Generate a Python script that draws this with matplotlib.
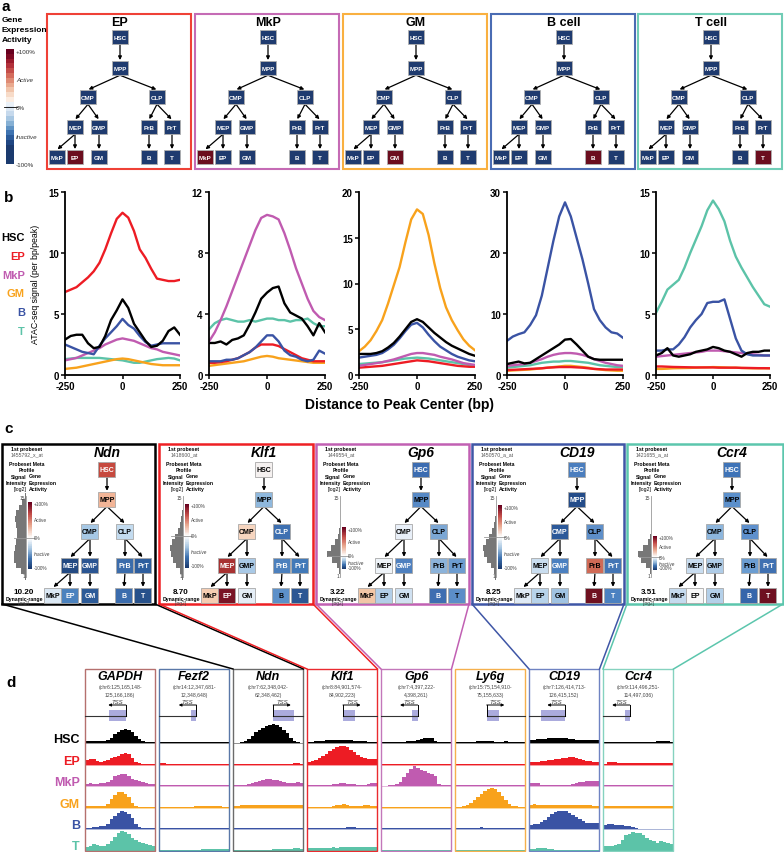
import numpy as np
import matplotlib
matplotlib.use("Agg")
import matplotlib.pyplot as plt
from matplotlib.colors import ListedColormap, LinearSegmentedColormap, to_rgb

plt.rcParams['font.family'] = ['Liberation Sans', 'DejaVu Sans']

W, H = 784, 853

# ---------------- data ----------------
cell_types = ["HSC", "EP", "MkP", "GM", "B", "T"]
cell_colors = ["#000000", "#ed1c24", "#c05bb0", "#f8a21c", "#3a53a4", "#5cc3a8"]

tree_nodes = ["HSC", "MPP", "CMP", "CLP", "MEP", "GMP", "PrB", "PrT", "MkP", "EP", "GM", "B", "T"]
tree_edges = [("HSC", "MPP"), ("MPP", "CMP"), ("MPP", "CLP"), ("CMP", "MEP"), ("CMP", "GMP"),
              ("CLP", "PrB"), ("CLP", "PrT"), ("MEP", "MkP"), ("MEP", "EP"), ("GMP", "GM"),
              ("PrB", "B"), ("PrT", "T")]

# panel a
a_titles = ["EP", "MkP", "GM", "B cell", "T cell"]
a_active = ["EP", "MkP", "GM", "B", "T"]
a_border = ["#ef4136", "#c56bb5", "#f9b040", "#4a6cb3", "#71cdb6"]
a_cbar = ["#67001f", "#7d0a24", "#9a1a2c", "#b2303a", "#c44d49", "#d46c5c", "#df8b74", "#e9a98e",
          "#f1c4aa", "#f7dbc8", "#fbede2", "#eaf1f8", "#dbe7f3", "#c6d9ec", "#a8c7e2", "#86b0d4",
          "#5f92c3", "#3e73b1", "#2a5a9a", "#1f4682", "#1b3a6e", "#1b3a6e", "#1b3a6e", "#1b3a6e"]

# panel b : ATAC-seq signal around peak centers, rows follow cell_types
b_pos = [-250, -225, -200, -175, -150, -125, -100, -75, -50, -25, 0, 25, 50, 75, 100, 125, 150, 175, 200, 225, 250]
b_ep = [
    [2.9, 3.2, 3.3, 3.3, 2.6, 2.2, 2.3, 3.2, 4.5, 5.3, 6.2, 5.5, 4.2, 3.5, 2.8, 2.3, 2.4, 2.8, 3.6, 3.9, 3.3],
    [6.8, 7.0, 7.2, 7.6, 8.0, 8.5, 9.2, 10.3, 11.6, 12.8, 13.3, 12.9, 11.8, 10.3, 9.6, 8.7, 7.9, 7.8, 7.7, 7.7, 7.8],
    [1.2, 1.3, 1.4, 1.6, 1.8, 2.0, 2.2, 2.5, 2.7, 2.9, 3.0, 2.9, 2.8, 2.6, 2.4, 2.2, 2.1, 1.9, 1.8, 1.7, 1.6],
    [0.5, 0.55, 0.6, 0.7, 0.8, 0.9, 1.0, 1.1, 1.2, 1.3, 1.35, 1.3, 1.2, 1.1, 1.0, 0.9, 0.85, 0.8, 0.8, 0.8, 0.8],
    [2.5, 2.3, 2.1, 1.9, 1.8, 1.7, 2.4, 3.0, 3.5, 4.0, 4.6, 4.1, 3.8, 3.2, 2.7, 2.4, 2.5, 2.6, 2.6, 2.6, 2.6],
    [1.3, 1.35, 1.4, 1.4, 1.4, 1.4, 1.4, 1.35, 1.3, 1.25, 1.2, 1.1, 1.0, 1.0, 1.1, 1.2, 1.3, 1.35, 1.4, 1.35, 1.2],
]
b_mkp = [
    [2.1, 2.1, 2.2, 2.0, 2.3, 2.4, 2.6, 3.3, 4.1, 5.0, 5.4, 5.7, 5.8, 4.7, 4.1, 3.9, 3.7, 3.2, 2.6, 3.4, 2.8],
    [0.8, 0.8, 0.85, 0.9, 1.0, 1.1, 1.3, 1.5, 1.8, 2.0, 2.0, 2.0, 1.9, 1.7, 1.5, 1.3, 1.1, 1.0, 0.9, 0.9, 0.9],
    [2.2, 2.8, 3.6, 4.5, 5.5, 6.5, 7.5, 8.5, 9.5, 10.3, 10.5, 10.4, 10.2, 9.3, 8.2, 7.0, 6.0, 5.0, 4.2, 3.8, 3.6],
    [0.6, 0.65, 0.7, 0.75, 0.8, 0.85, 0.9, 1.0, 1.1, 1.2, 1.25, 1.2, 1.1, 1.05, 1.0, 0.95, 0.9, 0.85, 0.8, 0.8, 0.8],
    [0.9, 0.9, 0.9, 1.0, 1.0, 1.1, 1.3, 1.5, 1.8, 2.2, 2.6, 2.6, 2.2, 1.6, 1.3, 1.2, 1.0, 0.9, 1.0, 1.6, 1.4],
    [3.0, 3.4, 3.6, 3.7, 3.6, 3.5, 3.5, 3.6, 3.5, 3.6, 3.7, 3.7, 3.6, 3.6, 3.5, 3.6, 3.6, 3.7, 3.4, 3.2, 3.2],
]
b_gm = [
    [2.3, 2.3, 2.3, 2.4, 2.6, 3.0, 3.5, 4.2, 5.0, 5.8, 6.1, 5.8, 5.2, 4.6, 4.1, 3.6, 3.2, 2.9, 2.6, 2.3, 2.1],
    [0.8, 0.85, 0.9, 0.95, 1.0, 1.1, 1.2, 1.3, 1.4, 1.5, 1.6, 1.55, 1.5, 1.4, 1.3, 1.2, 1.1, 1.0, 0.95, 0.9, 0.9],
    [1.0, 1.1, 1.2, 1.3, 1.4, 1.55, 1.7, 1.9, 2.1, 2.3, 2.4, 2.4, 2.3, 2.2, 2.0, 1.85, 1.7, 1.5, 1.3, 1.2, 1.1],
    [2.6, 3.1, 3.8, 4.8, 6.0, 7.8, 9.8, 11.8, 14.5, 17.0, 18.1, 17.6, 15.3, 12.2, 9.5, 7.4, 6.0, 4.9, 3.9, 3.2, 2.7],
    [1.9, 2.0, 2.1, 2.2, 2.4, 2.8, 3.3, 4.0, 4.8, 5.5, 5.7, 5.2, 4.4, 3.7, 3.1, 2.7, 2.3, 2.0, 1.8, 1.6, 1.5],
    [1.2, 1.25, 1.3, 1.35, 1.4, 1.5, 1.6, 1.7, 1.8, 1.85, 1.9, 1.85, 1.8, 1.7, 1.6, 1.5, 1.4, 1.3, 1.2, 1.1, 1.0],
]
b_b = [
    [1.8, 2.0, 2.2, 1.9, 2.0, 2.6, 3.2, 3.8, 4.4, 5.0, 5.8, 5.9, 5.0, 4.0, 3.0, 2.6, 2.5, 2.5, 2.5, 2.5, 2.5],
    [0.8, 0.85, 0.9, 0.95, 1.0, 1.05, 1.1, 1.2, 1.25, 1.3, 1.3, 1.3, 1.25, 1.2, 1.1, 1.0, 0.95, 0.9, 0.9, 0.9, 0.9],
    [1.5, 1.6, 1.7, 1.8, 2.0, 2.3, 2.6, 3.0, 3.3, 3.5, 3.6, 3.6, 3.5, 3.3, 3.0, 2.6, 2.3, 2.0, 1.8, 1.6, 1.5],
    [0.7, 0.75, 0.8, 0.85, 0.9, 1.0, 1.1, 1.2, 1.3, 1.4, 1.5, 1.5, 1.4, 1.3, 1.2, 1.0, 0.9, 0.8, 0.75, 0.7, 0.7],
    [5.6, 6.3, 6.7, 7.0, 8.2, 9.8, 13.0, 17.5, 22.0, 26.0, 28.3, 26.0, 22.5, 19.0, 15.0, 10.8, 9.0, 7.8, 7.0, 6.8, 6.1],
    [1.2, 1.3, 1.4, 1.5, 1.6, 1.8, 2.0, 2.1, 2.2, 2.2, 2.3, 2.3, 2.2, 2.1, 2.0, 1.8, 1.6, 1.5, 1.4, 1.3, 1.3],
]
b_t = [
    [1.6, 1.8, 2.2, 1.6, 1.5, 1.6, 1.7, 1.9, 2.0, 2.1, 2.3, 2.2, 2.0, 1.9, 1.7, 1.5, 1.8, 1.9, 1.9, 2.0, 2.0],
    [0.7, 0.7, 0.68, 0.66, 0.65, 0.64, 0.63, 0.62, 0.62, 0.62, 0.62, 0.6, 0.6, 0.6, 0.6, 0.58, 0.58, 0.57, 0.56, 0.56, 0.55],
    [1.5, 1.55, 1.6, 1.65, 1.7, 1.75, 1.8, 1.85, 1.9, 2.0, 2.0, 2.0, 1.95, 1.9, 1.85, 1.8, 1.75, 1.7, 1.65, 1.6, 1.6],
    [0.5, 0.5, 0.52, 0.55, 0.56, 0.57, 0.58, 0.6, 0.62, 0.63, 0.65, 0.64, 0.62, 0.6, 0.6, 0.58, 0.56, 0.55, 0.55, 0.55, 0.55],
    [2.0, 2.0, 2.1, 2.1, 2.5, 3.1, 3.9, 4.5, 5.0, 5.9, 6.0, 6.0, 6.2, 4.6, 3.0, 2.0, 1.7, 1.6, 1.6, 1.6, 1.6],
    [5.1, 6.0, 7.0, 7.4, 7.8, 8.8, 10.0, 11.1, 12.2, 13.5, 14.3, 13.6, 12.6, 11.0, 9.7, 8.8, 8.0, 7.2, 6.5, 5.8, 5.6],
]
b_ymax = [15, 12, 20, 30, 15]
b_yticks = [[0, 5, 10, 15], [0, 4, 8, 12], [0, 5, 10, 15, 20], [0, 10, 20, 30], [0, 5, 10, 15]]
b_focus = [1, 2, 3, 4, 5]

# panel c : gene expression commons trees, node colours follow tree_nodes
c_genes = ["Ndn", "Klf1", "Gp6", "CD19", "Ccr4"]
c_border = ["#000000", "#ee2024", "#c160b3", "#3f56a6", "#5cc6ad"]
c_probeset = ["1455792_x_at", "1418600_at", "1449554_at", "1450570_a_at", "1421655_a_at"]
c_range = ["10.20", "8.70", "3.22", "8.25", "3.51"]
c_ndn = ["#c6493e", "#f2b597", "#a6c8e5", "#c3dbef", "#234a82", "#2a5592", "#3b6cab", "#2e5e9e",
         "#dbe8f4", "#4b82be", "#2c5b98", "#3b6cad", "#27518b"]
c_klf1 = ["#f5f1f0", "#8fb8dd", "#f6d5bf", "#3e70b1", "#a83131", "#a9c9e6", "#4c80bd", "#4179b8",
          "#f5cdb2", "#7a1425", "#e4edf6", "#5c90c9", "#2b5693"]
c_gp6 = ["#3b6cb1", "#5789c5", "#e8eff8", "#7ca7d4", "#eef3f8", "#4e80bf", "#8cb3da", "#6c9cd0",
         "#f2c6a6", "#b2cee8", "#d0e1f1", "#3e6eb1", "#5b8dc8"]
c_cd19 = ["#4b7ebe", "#244c89", "#2c5999", "#5e8fc9", "#c9ddef", "#4b80c0", "#d06a56", "#4375b5",
          "#dfeaf5", "#b7d3ea", "#a0c3e2", "#6f101f", "#4b81c1"]
c_ccr4 = ["#3e73b7", "#5c90cb", "#8db6dd", "#5e90cd", "#c9ddf0", "#afcce7", "#6b9dd1", "#3f70b1",
          "#c5daee", "#f8f8f8", "#b4d0e9", "#3666ab", "#6e0f20"]
c_levels = [1, 2, 3, 4, 5, 6, 7, 8, 9, 10, 11, 12, 13, 14, 15]
c_hist_ndn = [0.1, 0.35, 0.75, 0.9, 0.95, 0.85, 0.75, 0.7, 0.7, 0.8, 0.85, 0.8, 0.55, 0.3, 0.1]
c_hist_klf1 = [0.05, 0.25, 0.55, 0.8, 0.95, 1.0, 0.85, 0.6, 0.4, 0.25, 0.12, 0.05, 0.02, 0.0, 0.0]
c_hist_gp6 = [0.02, 0.08, 0.25, 0.6, 1.0, 0.7, 0.35, 0.12, 0.05, 0.02, 0.0, 0.0, 0.0, 0.0, 0.0]
c_hist_cd19 = [0.05, 0.15, 0.4, 0.7, 0.95, 1.0, 0.8, 0.55, 0.3, 0.15, 0.08, 0.03, 0.0, 0.0, 0.0]
c_hist_ccr4 = [0.03, 0.1, 0.35, 0.8, 1.0, 0.6, 0.25, 0.08, 0.03, 0.01, 0.0, 0.0, 0.0, 0.0, 0.0]

# panel d : genome browser tracks (20 bins per locus, fraction of track height)
d_genes = ["GAPDH", "Fezf2", "Ndn", "Klf1", "Gp6", "Ly6g", "CD19", "Ccr4"]
d_border = ["#b5706e", "#5a78a8", "#6b6b6b", "#ea2a2f", "#c377ba", "#f5b04d", "#6f83c2", "#85d2bf"]
d_coord1 = ["(chr6:125,165,148-", "(chr14:12,347,681-", "(chr7:62,348,042-", "(chr8:84,901,574-",
            "(chr7:4,397,222-", "(chr15:75,154,910-", "(chr7:126,414,713-", "(chr9:114,496,251-"]
d_coord2 = ["125,166,186)", "12,348,648)", "62,348,462)", "84,902,223)",
            "4,398,261)", "75,155,633)", "126,415,152)", "114,497,036)"]
d_exon = [(0.34, 0.58), (0.46, 0.53), (0.57, 0.86), (0.51, 0.68), (0.44, 0.52), (0.45, 0.62), (0.17, 0.51), (0.31, 0.38)]
d_strand = [-1, -1, 1, 1, -1, 1, -1, -1]
d_gapdh = [
    [0.08, 0.1, 0.12, 0.1, 0.08, 0.1, 0.15, 0.25, 0.4, 0.5, 0.6, 0.65, 0.6, 0.5, 0.35, 0.2, 0.1, 0.06, 0.04, 0.03],
    [0.2, 0.28, 0.25, 0.15, 0.12, 0.15, 0.22, 0.3, 0.35, 0.42, 0.5, 0.53, 0.48, 0.3, 0.12, 0.06, 0.04, 0.03, 0.03, 0.03],
    [0.1, 0.12, 0.1, 0.1, 0.12, 0.15, 0.2, 0.3, 0.45, 0.52, 0.56, 0.54, 0.48, 0.35, 0.3, 0.25, 0.2, 0.15, 0.1, 0.08],
    [0.05, 0.05, 0.05, 0.05, 0.06, 0.08, 0.15, 0.4, 0.6, 0.7, 0.72, 0.65, 0.5, 0.2, 0.06, 0.04, 0.03, 0.03, 0.03, 0.03],
    [0.05, 0.06, 0.08, 0.1, 0.12, 0.15, 0.25, 0.45, 0.6, 0.75, 0.85, 0.8, 0.7, 0.5, 0.25, 0.1, 0.06, 0.04, 0.03, 0.03],
    [0.15, 0.22, 0.3, 0.25, 0.2, 0.22, 0.3, 0.45, 0.65, 0.8, 0.9, 0.85, 0.75, 0.6, 0.5, 0.4, 0.35, 0.3, 0.25, 0.2],
]
d_fezf2 = [
    [0.04, 0.03, 0.03, 0.04, 0.03, 0.03, 0.03, 0.03, 0.03, 0.03, 0.03, 0.03, 0.03, 0.03, 0.03, 0.03, 0.03, 0.03, 0.03, 0.03],
    [0.06, 0.05, 0.04, 0.03, 0.03, 0.02, 0.02, 0.02, 0.02, 0.02, 0.02, 0.02, 0.02, 0.02, 0.02, 0.02, 0.02, 0.02, 0.02, 0.02],
    [0.03, 0.03, 0.03, 0.03, 0.03, 0.03, 0.03, 0.03, 0.03, 0.03, 0.03, 0.03, 0.03, 0.03, 0.03, 0.03, 0.03, 0.03, 0.03, 0.03],
    [0.03, 0.03, 0.03, 0.03, 0.03, 0.03, 0.03, 0.03, 0.04, 0.04, 0.05, 0.05, 0.06, 0.07, 0.08, 0.08, 0.07, 0.05, 0.04, 0.03],
    [0.05, 0.05, 0.05, 0.05, 0.05, 0.05, 0.05, 0.05, 0.05, 0.05, 0.05, 0.05, 0.05, 0.05, 0.05, 0.05, 0.05, 0.05, 0.05, 0.05],
    [0.04, 0.04, 0.04, 0.04, 0.04, 0.04, 0.04, 0.04, 0.04, 0.04, 0.04, 0.04, 0.05, 0.05, 0.06, 0.07, 0.08, 0.09, 0.08, 0.07],
]
d_ndn = [
    [0.02, 0.02, 0.05, 0.1, 0.2, 0.35, 0.5, 0.6, 0.7, 0.78, 0.85, 0.88, 0.82, 0.75, 0.62, 0.45, 0.25, 0.1, 0.03, 0.02],
    [0.04, 0.04, 0.03, 0.03, 0.03, 0.03, 0.03, 0.03, 0.03, 0.03, 0.03, 0.03, 0.03, 0.03, 0.03, 0.03, 0.04, 0.05, 0.05, 0.04],
    [0.03, 0.04, 0.05, 0.07, 0.1, 0.15, 0.2, 0.25, 0.3, 0.32, 0.32, 0.3, 0.28, 0.25, 0.2, 0.15, 0.12, 0.15, 0.18, 0.15],
    [0.08, 0.09, 0.1, 0.1, 0.1, 0.1, 0.11, 0.12, 0.12, 0.13, 0.13, 0.12, 0.12, 0.11, 0.1, 0.1, 0.1, 0.1, 0.11, 0.1],
    [0.03, 0.03, 0.03, 0.03, 0.03, 0.03, 0.03, 0.03, 0.03, 0.03, 0.03, 0.03, 0.03, 0.03, 0.03, 0.03, 0.03, 0.03, 0.03, 0.03],
    [0.03, 0.03, 0.03, 0.03, 0.03, 0.03, 0.03, 0.03, 0.04, 0.04, 0.04, 0.05, 0.05, 0.06, 0.07, 0.08, 0.09, 0.1, 0.1, 0.09],
]
d_klf1 = [
    [0.03, 0.05, 0.08, 0.1, 0.12, 0.14, 0.15, 0.15, 0.16, 0.16, 0.15, 0.15, 0.14, 0.12, 0.1, 0.1, 0.08, 0.06, 0.05, 0.05],
    [0.1, 0.15, 0.22, 0.3, 0.4, 0.5, 0.62, 0.72, 0.8, 0.86, 0.88, 0.8, 0.7, 0.58, 0.45, 0.35, 0.3, 0.28, 0.25, 0.25],
    [0.05, 0.05, 0.04, 0.04, 0.04, 0.05, 0.06, 0.08, 0.1, 0.12, 0.12, 0.1, 0.1, 0.08, 0.06, 0.05, 0.05, 0.1, 0.15, 0.15],
    [0.03, 0.03, 0.03, 0.03, 0.03, 0.03, 0.04, 0.06, 0.1, 0.14, 0.15, 0.12, 0.08, 0.06, 0.06, 0.08, 0.1, 0.1, 0.08, 0.06],
    [0.03, 0.03, 0.03, 0.03, 0.03, 0.03, 0.03, 0.04, 0.05, 0.06, 0.07, 0.08, 0.09, 0.08, 0.07, 0.06, 0.05, 0.05, 0.05, 0.05],
    [0.1, 0.12, 0.12, 0.1, 0.1, 0.12, 0.12, 0.14, 0.13, 0.14, 0.15, 0.14, 0.15, 0.14, 0.15, 0.16, 0.15, 0.16, 0.18, 0.18],
]
d_gp6 = [
    [0.03, 0.03, 0.04, 0.04, 0.05, 0.06, 0.06, 0.08, 0.1, 0.12, 0.16, 0.2, 0.24, 0.25, 0.22, 0.12, 0.05, 0.04, 0.04, 0.04],
    [0.03, 0.03, 0.03, 0.03, 0.03, 0.03, 0.03, 0.03, 0.03, 0.03, 0.03, 0.03, 0.03, 0.03, 0.03, 0.03, 0.03, 0.03, 0.03, 0.03],
    [0.02, 0.02, 0.03, 0.05, 0.1, 0.2, 0.4, 0.6, 0.8, 0.92, 0.85, 0.75, 0.7, 0.6, 0.55, 0.45, 0.1, 0.04, 0.03, 0.03],
    [0.03, 0.03, 0.03, 0.03, 0.03, 0.03, 0.03, 0.03, 0.03, 0.03, 0.03, 0.03, 0.03, 0.03, 0.03, 0.03, 0.03, 0.03, 0.03, 0.03],
    [0.04, 0.04, 0.05, 0.05, 0.06, 0.05, 0.04, 0.04, 0.05, 0.06, 0.05, 0.04, 0.04, 0.05, 0.06, 0.05, 0.04, 0.04, 0.04, 0.04],
    [0.04, 0.04, 0.04, 0.04, 0.04, 0.04, 0.04, 0.04, 0.04, 0.04, 0.04, 0.04, 0.04, 0.04, 0.04, 0.04, 0.04, 0.04, 0.04, 0.04],
]
d_ly6g = [
    [0.04, 0.04, 0.04, 0.05, 0.05, 0.06, 0.08, 0.1, 0.11, 0.1, 0.08, 0.06, 0.06, 0.07, 0.08, 0.06, 0.05, 0.05, 0.04, 0.04],
    [0.03, 0.03, 0.03, 0.03, 0.03, 0.03, 0.03, 0.03, 0.03, 0.03, 0.03, 0.03, 0.03, 0.03, 0.03, 0.03, 0.03, 0.03, 0.03, 0.03],
    [0.03, 0.03, 0.03, 0.03, 0.03, 0.03, 0.04, 0.05, 0.06, 0.06, 0.05, 0.04, 0.03, 0.03, 0.03, 0.03, 0.03, 0.03, 0.03, 0.03],
    [0.03, 0.04, 0.06, 0.1, 0.2, 0.35, 0.5, 0.65, 0.78, 0.88, 0.9, 0.85, 0.72, 0.55, 0.35, 0.15, 0.07, 0.05, 0.04, 0.04],
    [0.05, 0.06, 0.06, 0.05, 0.05, 0.06, 0.07, 0.08, 0.07, 0.06, 0.05, 0.05, 0.06, 0.07, 0.06, 0.05, 0.05, 0.06, 0.07, 0.06],
    [0.03, 0.03, 0.03, 0.03, 0.03, 0.03, 0.03, 0.03, 0.03, 0.03, 0.03, 0.03, 0.03, 0.03, 0.03, 0.03, 0.03, 0.03, 0.03, 0.03],
]
d_cd19 = [
    [0.15, 0.16, 0.18, 0.18, 0.2, 0.22, 0.22, 0.24, 0.25, 0.25, 0.22, 0.18, 0.18, 0.15, 0.15, 0.14, 0.14, 0.15, 0.14, 0.13],
    [0.1, 0.12, 0.14, 0.16, 0.18, 0.2, 0.22, 0.25, 0.28, 0.3, 0.32, 0.35, 0.36, 0.32, 0.25, 0.2, 0.18, 0.15, 0.12, 0.12],
    [0.16, 0.16, 0.15, 0.05, 0.05, 0.05, 0.05, 0.05, 0.05, 0.05, 0.05, 0.06, 0.08, 0.15, 0.18, 0.2, 0.22, 0.24, 0.25, 0.25],
    [0.14, 0.15, 0.14, 0.12, 0.1, 0.1, 0.1, 0.1, 0.1, 0.11, 0.12, 0.12, 0.12, 0.11, 0.1, 0.1, 0.1, 0.1, 0.09, 0.09],
    [0.2, 0.22, 0.25, 0.32, 0.42, 0.55, 0.68, 0.78, 0.84, 0.86, 0.82, 0.75, 0.65, 0.55, 0.45, 0.35, 0.3, 0.3, 0.28, 0.26],
    [0.05, 0.08, 0.12, 0.12, 0.1, 0.06, 0.05, 0.04, 0.04, 0.04, 0.04, 0.04, 0.04, 0.04, 0.04, 0.04, 0.04, 0.04, 0.04, 0.04],
]
d_ccr4 = [
    [0.03, 0.03, 0.03, 0.03, 0.03, 0.03, 0.03, 0.04, 0.04, 0.04, 0.04, 0.04, 0.05, 0.05, 0.06, 0.08, 0.1, 0.1, 0.08, 0.06],
    [0.04, 0.1, 0.12, 0.1, 0.06, 0.05, 0.05, 0.05, 0.05, 0.05, 0.05, 0.05, 0.05, 0.05, 0.05, 0.05, 0.05, 0.05, 0.05, 0.05],
    [0.03, 0.03, 0.03, 0.03, 0.03, 0.03, 0.03, 0.03, 0.03, 0.03, 0.03, 0.03, 0.03, 0.03, 0.03, 0.03, 0.03, 0.03, 0.03, 0.03],
    [0.05, 0.05, 0.05, 0.05, 0.05, 0.05, 0.05, 0.05, 0.05, 0.05, 0.05, 0.05, 0.05, 0.05, 0.05, 0.05, 0.05, 0.05, 0.05, 0.05],
    [0.2, 0.22, 0.22, 0.2, 0.2, 0.18, 0.15, 0.12, 0.1, 0.06, 0.02, 0.0, 0.0, 0.0, 0.0, 0.0, 0.0, 0.0, 0.0, 0.0],
    [0.2, 0.2, 0.22, 0.25, 0.3, 0.5, 0.7, 0.78, 0.85, 0.82, 0.8, 0.7, 0.6, 0.5, 0.42, 0.35, 0.45, 0.4, 0.35, 0.3],
]

# ---------------- layout (pixels) ----------------
A_LEFT = [47, 195, 343, 491, 638]
A_W, A_TOP, A_BOT = 144, 15, 170
A_X = {"HSC": 73, "MPP": 73, "CMP": 41, "CLP": 110, "MEP": 28, "GMP": 52, "PrB": 102, "PrT": 125,
       "MkP": 10, "EP": 28, "GM": 52, "B": 102, "T": 125}
C_LEFT = [2, 159, 316, 472, 627]
C_RIGHT = [155, 313, 469, 624, 783]
C_TOP, C_BOT = 445, 605
C_X = {"HSC": 105, "MPP": 105, "CMP": 88, "CLP": 123, "MEP": 68, "GMP": 88, "PrB": 123, "PrT": 141,
       "MkP": 51, "EP": 68, "GM": 88, "B": 122, "T": 141}
ROW = {"HSC": 0, "MPP": 1, "CMP": 2, "CLP": 2, "MEP": 3, "GMP": 3, "PrB": 3, "PrT": 3,
       "MkP": 4, "EP": 4, "GM": 4, "B": 4, "T": 4}
A_ROWY = [38, 69, 98, 128, 158]
C_ROWY = [470, 500, 532, 566, 596]
C_CB = [(503, 539, 570), (505, 537, 569), (528, 557, 570), (506, 538, 570), (537, 558, 571)]
B_X = [(65, 180), (209, 325), (359, 475), (507, 623), (656, 770)]
B_TOP, B_BOT = 193, 376
D_LEFT = [85, 159, 233, 307, 381, 455, 529, 603]
D_W, D_TOP, D_BOT = 70.5, 670, 852
D_TRK_TOP, D_TRK_BOT = 722.6, 851.5

fig = plt.figure(figsize=(W / 100, H / 100), dpi=100)


def fax(x0, y0, x1, y1, **kw):
    return fig.add_axes([x0 / W, 1 - y1 / H, (x1 - x0) / W, (y1 - y0) / H], **kw)


ov = fax(0, 0, W, H, zorder=10)
ov.set_xlim(0, W)
ov.set_ylim(H, 0)
ov.axis("off")


def txt_col(c):
    r, g, b = to_rgb(c)
    return "white" if 0.299 * r + 0.587 * g + 0.114 * b < 0.5 else "black"


def draw_tree(xl, xoff, rowy, colors, w, h, fs, edge):
    pos = {n: (xl + xoff[n], rowy[ROW[n]]) for n in tree_nodes}
    for p, c in tree_edges:
        x0, y0 = pos[p]
        x1, y1 = pos[c]
        ov.annotate("", xy=(x1, y1 - h / 2), xytext=(x0, y0 + h / 2),
                    arrowprops=dict(arrowstyle="-|>", color="black", lw=0.9,
                                    mutation_scale=5, shrinkA=0, shrinkB=0.5))
    for n, col in zip(tree_nodes, colors):
        x, y = pos[n]
        ov.add_patch(plt.Rectangle((x - w / 2, y - h / 2), w, h, facecolor=col,
                                   edgecolor=edge, lw=0.6, zorder=3))
        ov.text(x, y, n, ha="center", va="center", fontsize=fs, fontweight="bold",
                color=txt_col(col), zorder=4)


# ---------------- panel a ----------------
ov.text(2, 11, "a", fontsize=11, fontweight="bold", va="baseline")
for i, s in enumerate(["Gene", "Expression", "Activity"]):
    ov.text(2, 20 + 10 * i, s, fontsize=6, fontweight="bold", va="center")
cba = fax(6, 50, 14, 165)
cba.imshow(np.arange(len(a_cbar))[:, None], cmap=ListedColormap(a_cbar), aspect="auto",
           interpolation="nearest")
cba.axis("off")
ov.plot([4, 17], [108, 108], color="black", lw=0.6)
for y, s, st in [(52, "+100%", "normal"), (80, "Active", "italic"), (108, "0%", "normal"),
                 (137, "Inactive", "italic"), (165, "-100%", "normal")]:
    ov.text(16, y, s, fontsize=4.5, style=st, va="center", color="#333333")

for k in range(5):
    L = A_LEFT[k]
    ov.add_patch(plt.Rectangle((L, A_TOP), A_W, A_BOT - A_TOP, fill=False, edgecolor=a_border[k], lw=1.5))
    ov.text(L + 73, 23, a_titles[k], ha="center", va="center", fontsize=9, fontweight="bold")
    cols = ["#6b0d1e" if n == a_active[k] else "#1f3b6f" for n in tree_nodes]
    draw_tree(L, A_X, A_ROWY, cols, 16, 14.5, 4.5, "#b0b0b0")

# ---------------- panel b ----------------
ov.text(4, 202, "b", fontsize=11, fontweight="bold", va="baseline")
for i, (ct, col) in enumerate(zip(cell_types, cell_colors)):
    ov.text(25, 238 + 18.8 * i, ct, ha="right", va="center", fontsize=8, fontweight="bold", color=col)
ov.text(36, 284, "ATAC-seq signal (per bp/peak)", rotation=90, ha="center", va="center", fontsize=6.3)
ov.text(400, 405, "Distance to Peak Center (bp)", ha="center", va="center", fontsize=10, fontweight="bold")

b_panels = [b_ep, b_mkp, b_gm, b_b, b_t]
for k in range(5):
    ax = fax(B_X[k][0], B_TOP, B_X[k][1], B_BOT)
    data = b_panels[k]
    order = [i for i in [5, 3, 1, 2, 4] if i != b_focus[k]] + [0, b_focus[k]]
    for i in order:
        ax.plot(b_pos, data[i], color=cell_colors[i], lw=1.7, solid_joinstyle="round")
    ax.set_xlim(-250, 250)
    ax.set_ylim(0, b_ymax[k])
    ax.set_xticks([-250, 0, 250])
    ax.set_xticklabels(["-250", "0", "250"], fontweight="bold", fontsize=7)
    ax.set_yticks(b_yticks[k])
    ax.set_yticklabels([str(v) for v in b_yticks[k]], fontweight="bold", fontsize=7)
    for s in ["top", "right"]:
        ax.spines[s].set_visible(False)
    for s in ["left", "bottom"]:
        ax.spines[s].set_linewidth(1.3)
    ax.tick_params(width=1.1, length=3, pad=1.5)
    ax.patch.set_alpha(0)

# ---------------- panel c ----------------
ov.text(4, 433, "c", fontsize=11, fontweight="bold", va="baseline")
c_cols = [c_ndn, c_klf1, c_gp6, c_cd19, c_ccr4]
c_hists = [c_hist_ndn, c_hist_klf1, c_hist_gp6, c_hist_cd19, c_hist_ccr4]
cmap_c = LinearSegmentedColormap.from_list("ge", ["#1b3a6e", "#3e73b1", "#a8c7e2", "#ffffff",
                                                  "#eaab92", "#c44d49", "#67001f"])
for k in range(5):
    L = C_LEFT[k]
    ov.add_patch(plt.Rectangle((L, C_TOP), C_RIGHT[k] - L, C_BOT - C_TOP, fill=False,
                               edgecolor=c_border[k], lw=1.8))
    ov.text(L + 105, 453, c_genes[k], ha="center", va="center", fontsize=10, fontweight="bold", style="italic")
    ov.text(L + 25, 449, "1st probeset", ha="center", va="center", fontsize=3.7, fontweight="bold")
    ov.text(L + 25, 455, c_probeset[k], ha="center", va="center", fontsize=3.7, color="#555555")
    ov.text(L + 25, 464, "Probeset Meta", ha="center", va="center", fontsize=3.7, fontweight="bold")
    ov.text(L + 25, 470, "Profile", ha="center", va="center", fontsize=3.7, fontweight="bold")
    for j, (s1, s2) in enumerate([("Signal", "Gene"), ("Intensity", "Expression"), ("[log2]", "Activity")]):
        ov.text(L + 25, 477 + 6.5 * j, s1, ha="right", va="center", fontsize=3.7,
                fontweight="normal" if s1 == "[log2]" else "bold")
        ov.text(L + 27, 477 + 6.5 * j, s2, ha="left", va="center", fontsize=3.7, fontweight="bold")
    # histogram of probeset signal
    hx = fax(L + 11, 494, L + 24, 581)
    hx.barh(c_levels, [-v for v in c_hists[k]], height=1.0, color="#777777", lw=0)
    hx.set_xlim(-1, 0)
    hx.set_ylim(0.5, 15.5)
    hx.axis("off")
    ov.plot([L + 24, L + 24], [497, 578], color="#999999", lw=0.6)
    ov.text(L + 23, 498, "15", ha="right", va="center", fontsize=3.5, color="#444444")
    ov.text(L + 23, 577, "1", ha="right", va="center", fontsize=3.5, color="#444444")
    top, mid, bot = C_CB[k]
    nn = 100
    cut = int(round(nn * (mid - top) / (bot - top)))
    vals = np.concatenate([np.linspace(1, 0, cut), np.linspace(0, -1, nn - cut)])
    cx = fax(L + 26, top, L + 30, bot)
    cx.imshow(vals[:, None], cmap=cmap_c, vmin=-1, vmax=1, aspect="auto", interpolation="nearest")
    cx.axis("off")
    ov.plot([L + 12, L + 33], [mid, mid], color="#999999", lw=0.6)
    for y, s, st in [(top + 2, "+100%", "normal"), ((top + mid) / 2, "Active", "normal"), (mid, "0%", "normal"),
                     ((mid + bot) / 2, "Inactive", "italic"), (bot - 2, "-100%", "normal")]:
        ov.text(L + 31.5, y, s, fontsize=3.4, va="center", style=st, color="#444444")
    ov.text(L + 22, 593, c_range[k], ha="center", va="center", fontsize=5.8, fontweight="bold")
    ov.text(L + 22, 599, "Dynamic-range", ha="center", va="center", fontsize=3.7, fontweight="bold")
    ov.text(L + 22, 603.5, "[log2]", ha="center", va="center", fontsize=3.5, color="#444444")
    draw_tree(L, C_X, C_ROWY, c_cols[k], 17, 15, 5, "#a8a8a8")

# connectors from panel c boxes to panel d loci
for k, g in enumerate(c_genes):
    j = d_genes.index(g)
    for xc, xd in [(C_LEFT[k], D_LEFT[j]), (C_RIGHT[k], D_LEFT[j] + D_W)]:
        ov.plot([xc, xd], [C_BOT, D_TOP], color=c_border[k], lw=1.1)

# ---------------- panel d ----------------
ov.text(6, 687, "d", fontsize=11, fontweight="bold", va="baseline")
d_tracks = [d_gapdh, d_fezf2, d_ndn, d_klf1, d_gp6, d_ly6g, d_cd19, d_ccr4]
row_h = (D_TRK_BOT - D_TRK_TOP) / 6
for i, (ct, col) in enumerate(zip(cell_types, cell_colors)):
    ov.text(80, D_TRK_TOP + row_h * (i + 1) - 1, ct, ha="right", va="baseline", fontsize=9,
            fontweight="bold", color=col)

for j in range(8):
    L = D_LEFT[j]
    ov.add_patch(plt.Rectangle((L, D_TOP), D_W, D_BOT - D_TOP, fill=False, edgecolor=d_border[j], lw=1.0))
    xc = L + D_W / 2
    ov.text(xc, 677, d_genes[j], ha="center", va="center", fontsize=9, fontweight="bold", style="italic")
    ov.text(xc, 688, d_coord1[j], ha="center", va="center", fontsize=3.7, color="#444444")
    ov.text(xc, 695, d_coord2[j], ha="center", va="center", fontsize=3.7, color="#444444")
    e0, e1 = d_exon[j]
    s = d_strand[j]
    if s < 0:
        xt = L + e1 * D_W
        ov.plot([L, xt], [716.5, 716.5], color="#333333", lw=0.8)
    else:
        xt = L + e0 * D_W
        ov.plot([xt, L + D_W], [716.5, 716.5], color="#333333", lw=0.8)
    ov.add_patch(plt.Rectangle((L + e0 * D_W, 711), (e1 - e0) * D_W, 11, facecolor="#9c9cd8",
                               edgecolor="none", alpha=0.85))
    xa = xt + s * 0.25 * D_W
    ov.plot([xt, xt], [716.5, 706], color="black", lw=0.7)
    ov.annotate("", xy=(xa, 706), xytext=(xt, 706),
                arrowprops=dict(arrowstyle="-|>", color="black", lw=0.7, mutation_scale=4,
                                shrinkA=0, shrinkB=0))
    ov.text((xt + xa) / 2, 702, "TSS", ha="center", va="center", fontsize=4.3, style="italic", color="#333333")

    tx = fax(L, D_TRK_TOP, L + D_W, D_TRK_BOT)
    edges = np.arange(21)
    for i, col in enumerate(cell_colors):
        base = 5 - i
        v = np.array(d_tracks[j][i])
        tx.axhline(base, color=col, lw=0.6, alpha=0.5)
        tx.stairs(base + v, edges, baseline=base, fill=True, color=col, lw=0)
    tx.set_xlim(0, 20)
    tx.set_ylim(0, 6)
    tx.axis("off")

fig.savefig("out.png", dpi=100)
